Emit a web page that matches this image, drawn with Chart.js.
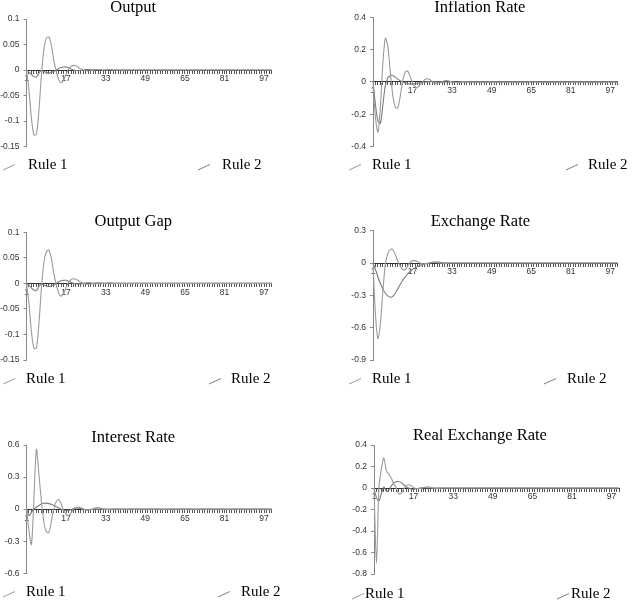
<!DOCTYPE html>
<html>
<head>
<meta charset="utf-8">
<title>Impulse responses</title>
<script src="https://cdn.jsdelivr.net/npm/chart.js@4.4.0/dist/chart.umd.min.js"></script>
<style>
  body { margin: 0; background: #fff; width: 643px; height: 602px; overflow: hidden; position: relative; }
  canvas { position: absolute; }
</style>
</head>
<body>
<script>
// periods on the x axis
const periods = Array.from({ length: 100 }, (_, i) => i + 1);
const xTickLabels = [1, 17, 33, 49, 65, 81, 97];
const seriesNames = ['Rule 1', 'Rule 2'];

// y tick labels per panel
const outputTicks = [-0.15, -0.1, -0.05, 0, 0.05, 0.1];
const inflationTicks = [-0.4, -0.2, 0, 0.2, 0.4];
const gapTicks = [-0.15, -0.1, -0.05, 0, 0.05, 0.1];
const exchangeTicks = [-0.9, -0.6, -0.3, 0, 0.3];
const interestTicks = [-0.6, -0.3, 0, 0.3, 0.6];
const realExchangeTicks = [-0.8, -0.6, -0.4, -0.2, 0, 0.2, 0.4];

// series values
const outputRule1 = [
  0, -0.04, -0.095, -0.127, -0.126, -0.08, -0.012, 0.04, 0.062, 0.065,
  0.05, 0.02, -0.002, -0.019, -0.025, -0.02, -0.008, 0.002, 0.007, 0.009,
  0.008, 0.005, 0.002, 0, -0.001, -0.002, -0.001, 0, 0.001, 0.001,
  0.001, 0, 0, 0.001, 0.001, 0, 0, 0, 0, 0,
  0, 0, 0, 0, 0, 0, 0, 0, 0, 0,
  0, 0, 0, 0, 0, 0, 0, 0, 0, 0,
  0, 0, 0, 0, 0, 0, 0, 0, 0, 0,
  0, 0, 0, 0, 0, 0, 0, 0, 0, 0,
  0, 0, 0, 0, 0, 0, 0, 0, 0, 0,
  0, 0, 0, 0, 0, 0, 0, 0, 0, 0
];
const outputRule2 = [
  0, -0.004, -0.009, -0.013, -0.014, -0.006, -0.001, -0.003, -0.005, -0.006,
  -0.005, -0.003, 0, 0.003, 0.005, 0.006, 0.006, 0.004, 0.002, 0,
  -0.001, -0.001, -0.001, 0, 0.001, 0.001, 0.001, 0, 0, 0,
  0, 0, 0, 0, 0, 0, 0, 0, 0, 0,
  0, 0, 0, 0, 0, 0, 0, 0, 0, 0,
  0, 0, 0, 0, 0, 0, 0, 0, 0, 0,
  0, 0, 0, 0, 0, 0, 0, 0, 0, 0,
  0, 0, 0, 0, 0, 0, 0, 0, 0, 0,
  0, 0, 0, 0, 0, 0, 0, 0, 0, 0,
  0, 0, 0, 0, 0, 0, 0, 0, 0, 0
];
const inflationRule1 = [
  0, -0.22, -0.31, -0.15, 0.12, 0.27, 0.22, 0.06, -0.08, -0.155,
  -0.16, -0.09, 0.005, 0.06, 0.068, 0.035, -0.005, -0.03, -0.033, -0.02,
  0, 0.015, 0.02, 0.015, 0.003, -0.007, -0.01, -0.006, 0.002, 0.008,
  0.009, 0.005, 0, -0.003, -0.003, -0.001, 0.001, 0.002, 0.001, 0,
  0, 0, 0, 0, 0, 0, 0, 0, 0, 0,
  0, 0, 0, 0, 0, 0, 0, 0, 0, 0,
  0, 0, 0, 0, 0, 0, 0, 0, 0, 0,
  0, 0, 0, 0, 0, 0, 0, 0, 0, 0,
  0, 0, 0, 0, 0, 0, 0, 0, 0, 0,
  0, 0, 0, 0, 0, 0, 0, 0, 0, 0
];
const inflationRule2 = [
  0, -0.14, -0.24, -0.255, -0.14, -0.02, 0.025, 0.04, 0.04, 0.03,
  0.018, 0.008, 0, -0.006, -0.01, -0.012, -0.012, -0.01, -0.007, -0.004,
  -0.002, 0, 0.001, 0.002, 0.002, 0.001, 0, 0, 0, 0,
  0, 0, 0, 0, 0, 0, 0, 0, 0, 0,
  0, 0, 0, 0, 0, 0, 0, 0, 0, 0,
  0, 0, 0, 0, 0, 0, 0, 0, 0, 0,
  0, 0, 0, 0, 0, 0, 0, 0, 0, 0,
  0, 0, 0, 0, 0, 0, 0, 0, 0, 0,
  0, 0, 0, 0, 0, 0, 0, 0, 0, 0,
  0, 0, 0, 0, 0, 0, 0, 0, 0, 0
];
const gapRule1 = [
  0, -0.04, -0.095, -0.127, -0.127, -0.08, -0.012, 0.04, 0.062, 0.065,
  0.05, 0.02, -0.002, -0.019, -0.025, -0.02, -0.008, 0.002, 0.007, 0.009,
  0.008, 0.005, 0.002, 0, -0.001, -0.002, -0.001, 0, 0.001, 0.001,
  0.001, 0, 0, 0.001, 0.001, 0, 0, 0, 0, 0,
  0, 0, 0, 0, 0, 0, 0, 0, 0, 0,
  0, 0, 0, 0, 0, 0, 0, 0, 0, 0,
  0, 0, 0, 0, 0, 0, 0, 0, 0, 0,
  0, 0, 0, 0, 0, 0, 0, 0, 0, 0,
  0, 0, 0, 0, 0, 0, 0, 0, 0, 0,
  0, 0, 0, 0, 0, 0, 0, 0, 0, 0
];
const gapRule2 = [
  0, -0.004, -0.009, -0.013, -0.014, -0.006, -0.001, -0.003, -0.005, -0.006,
  -0.005, -0.003, 0, 0.003, 0.005, 0.006, 0.006, 0.004, 0.002, 0,
  -0.001, -0.001, -0.001, 0, 0.001, 0.001, 0.001, 0, 0, 0,
  0, 0, 0, 0, 0, 0, 0, 0, 0, 0,
  0, 0, 0, 0, 0, 0, 0, 0, 0, 0,
  0, 0, 0, 0, 0, 0, 0, 0, 0, 0,
  0, 0, 0, 0, 0, 0, 0, 0, 0, 0,
  0, 0, 0, 0, 0, 0, 0, 0, 0, 0,
  0, 0, 0, 0, 0, 0, 0, 0, 0, 0,
  0, 0, 0, 0, 0, 0, 0, 0, 0, 0
];
const exchangeRule1 = [
  0, -0.48, -0.7, -0.56, -0.26, -0.01, 0.09, 0.125, 0.127, 0.08,
  0.02, -0.03, -0.06, -0.06, -0.03, 0.005, 0.02, 0.022, 0.012, 0,
  -0.008, -0.008, -0.004, 0.002, 0.006, 0.006, 0.003, 0, -0.002, -0.002,
  -0.001, 0, 0, 0, 0, 0, 0, 0, 0, 0,
  0, 0, 0, 0, 0, 0, 0, 0, 0, 0,
  0, 0, 0, 0, 0, 0, 0, 0, 0, 0,
  0, 0, 0, 0, 0, 0, 0, 0, 0, 0,
  0, 0, 0, 0, 0, 0, 0, 0, 0, 0,
  0, 0, 0, 0, 0, 0, 0, 0, 0, 0,
  0, 0, 0, 0, 0, 0, 0, 0, 0, 0
];
const exchangeRule2 = [
  0, -0.06, -0.13, -0.19, -0.24, -0.28, -0.305, -0.318, -0.31, -0.28,
  -0.24, -0.2, -0.16, -0.13, -0.1, -0.078, -0.06, -0.045, -0.033, -0.023,
  -0.015, -0.008, -0.003, 0.002, 0.006, 0.008, 0.008, 0.006, 0.003, 0.001,
  0, 0, 0, 0, 0, 0, 0, 0, 0, 0,
  0, 0, 0, 0, 0, 0, 0, 0, 0, 0,
  0, 0, 0, 0, 0, 0, 0, 0, 0, 0,
  0, 0, 0, 0, 0, 0, 0, 0, 0, 0,
  0, 0, 0, 0, 0, 0, 0, 0, 0, 0,
  0, 0, 0, 0, 0, 0, 0, 0, 0, 0,
  0, 0, 0, 0, 0, 0, 0, 0, 0, 0
];
const interestRule1 = [
  0, -0.2, -0.33, 0.1, 0.56, 0.33, 0.08, -0.12, -0.21, -0.22,
  -0.12, 0, 0.07, 0.09, 0.05, -0.01, -0.05, -0.06, -0.035, 0,
  0.015, 0.02, 0.012, 0, -0.008, -0.01, -0.006, 0.004, 0.012, 0.015,
  0.01, 0.002, -0.003, -0.004, -0.002, 0, 0.001, 0.001, 0, 0,
  0, 0, 0, 0, 0, 0, 0, 0, 0, 0,
  0, 0, 0, 0, 0, 0, 0, 0, 0, 0,
  0, 0, 0, 0, 0, 0, 0, 0, 0, 0,
  0, 0, 0, 0, 0, 0, 0, 0, 0, 0,
  0, 0, 0, 0, 0, 0, 0, 0, 0, 0,
  0, 0, 0, 0, 0, 0, 0, 0, 0, 0
];
const interestRule2 = [
  0, -0.06, -0.03, 0, 0.02, 0.035, 0.048, 0.055, 0.056, 0.052,
  0.045, 0.035, 0.022, 0.01, 0, -0.01, -0.015, -0.012, -0.004, 0.005,
  0.01, 0.01, 0.006, 0, -0.004, -0.004, -0.002, 0, 0, 0,
  0, 0, 0, 0, 0, 0, 0, 0, 0, 0,
  0, 0, 0, 0, 0, 0, 0, 0, 0, 0,
  0, 0, 0, 0, 0, 0, 0, 0, 0, 0,
  0, 0, 0, 0, 0, 0, 0, 0, 0, 0,
  0, 0, 0, 0, 0, 0, 0, 0, 0, 0,
  0, 0, 0, 0, 0, 0, 0, 0, 0, 0,
  0, 0, 0, 0, 0, 0, 0, 0, 0, 0
];
const realExchangeRule1 = [
  0, -0.7, 0, 0.18, 0.28, 0.16, 0.13, 0.09, 0.04, 0,
  -0.055, -0.05, -0.01, 0.02, 0.03, 0.02, 0.005, -0.005, -0.008, -0.003,
  0.005, 0.01, 0.01, 0.005, 0, -0.003, -0.002, 0, 0, 0,
  0, 0, 0, 0, 0, 0, 0, 0, 0, 0,
  0, 0, 0, 0, 0, 0, 0, 0, 0, 0,
  0, 0, 0, 0, 0, 0, 0, 0, 0, 0,
  0, 0, 0, 0, 0, 0, 0, 0, 0, 0,
  0, 0, 0, 0, 0, 0, 0, 0, 0, 0,
  0, 0, 0, 0, 0, 0, 0, 0, 0, 0,
  0, 0, 0, 0, 0, 0, 0, 0, 0, 0
];
const realExchangeRule2 = [
  0, -0.09, -0.12, -0.05, 0.01, -0.03, -0.02, 0.02, 0.045, 0.058,
  0.06, 0.05, 0.03, 0.01, 0, -0.01, -0.012, -0.008, -0.003, 0.002,
  0.003, 0.002, 0, 0, 0, 0, 0, 0, 0, 0,
  0, 0, 0, 0, 0, 0, 0, 0, 0, 0,
  0, 0, 0, 0, 0, 0, 0, 0, 0, 0,
  0, 0, 0, 0, 0, 0, 0, 0, 0, 0,
  0, 0, 0, 0, 0, 0, 0, 0, 0, 0,
  0, 0, 0, 0, 0, 0, 0, 0, 0, 0,
  0, 0, 0, 0, 0, 0, 0, 0, 0, 0,
  0, 0, 0, 0, 0, 0, 0, 0, 0, 0
];

// page layout of each panel (pixels)
const panels = [
  { title: 'Output', rule1: outputRule1, rule2: outputRule2, ticks: outputTicks,
    plotL: 26.5, plotR: 271.5, yTop: 19, yBot: 146.5, titleX: 133, titleY: 8,
    legendY: 165, right: 320, bottom: 186, legend: [{ icon: 3, text: 28 }, { icon: 198, text: 222 }] },
  { title: 'Inflation Rate', rule1: inflationRule1, rule2: inflationRule2, ticks: inflationTicks,
    plotL: 373, plotR: 617.7, yTop: 17.3, yBot: 146.7, titleX: 480, titleY: 7.5,
    legendY: 165, right: 643, bottom: 186, legend: [{ icon: 349, text: 372 }, { icon: 566, text: 588 }] },
  { title: 'Output Gap', rule1: gapRule1, rule2: gapRule2, ticks: gapTicks,
    plotL: 26.5, plotR: 271.5, yTop: 232.3, yBot: 360, titleX: 133.3, titleY: 222,
    legendY: 379, right: 320, bottom: 400, legend: [{ icon: 3, text: 26 }, { icon: 209, text: 231 }] },
  { title: 'Exchange Rate', rule1: exchangeRule1, rule2: exchangeRule2, ticks: exchangeTicks,
    plotL: 373, plotR: 617.7, yTop: 230.7, yBot: 360, titleX: 480.5, titleY: 221.7,
    legendY: 379, right: 643, bottom: 400, legend: [{ icon: 349, text: 372 }, { icon: 544, text: 567 }] },
  { title: 'Interest Rate', rule1: interestRule1, rule2: interestRule2, ticks: interestTicks,
    plotL: 26.5, plotR: 271.5, yTop: 445, yBot: 573.3, titleX: 133.3, titleY: 437.5,
    legendY: 592, right: 320, bottom: 602, legend: [{ icon: 3, text: 26 }, { icon: 218, text: 241 }] },
  { title: 'Real Exchange Rate', rule1: realExchangeRule1, rule2: realExchangeRule2, ticks: realExchangeTicks,
    plotL: 374, plotR: 619, yTop: 445, yBot: 574, titleX: 480.2, titleY: 436,
    legendY: 594, right: 643, bottom: 602, legend: [{ icon: 352, text: 365 }, { icon: 557, text: 571 }] }
];

const lineColors = ['#9a9a9a', '#7c7c7c'];

// small slanted line + label under each panel
const legendLines = {
  id: 'legendLines',
  afterDraw(chart, args, opts) {
    const ctx = chart.ctx;
    ctx.save();
    chart.data.datasets.forEach((ds, i) => {
      const item = opts.items[i];
      const x = item.icon - opts.x0;
      const y = opts.y - opts.y0;
      ctx.strokeStyle = ds.borderColor;
      ctx.lineWidth = 1;
      ctx.beginPath();
      ctx.moveTo(x, y + 5);
      ctx.lineTo(x + 12, y - 0.5);
      ctx.stroke();
      ctx.fillStyle = '#000';
      ctx.font = '15px "Liberation Serif"';
      ctx.textBaseline = 'middle';
      ctx.textAlign = 'left';
      ctx.fillText(ds.label, item.text - opts.x0, y);
    });
    ctx.restore();
  }
};

function makePanel(p) {
  const canvas = document.createElement('canvas');
  const x0 = Math.round(2 * p.titleX - p.plotR);
  const y0 = Math.round(p.titleY - 6.6);
  const w = Math.round(p.right - x0);
  const h = Math.round(p.bottom - y0);
  canvas.width = w;
  canvas.height = h;
  canvas.style.left = x0 + 'px';
  canvas.style.top = y0 + 'px';
  document.body.appendChild(canvas);

  const titleSize = 16.5;
  const titleH = titleSize * 0.8;

  new Chart(canvas, {
    type: 'line',
    data: {
      labels: periods,
      datasets: [p.rule1, p.rule2].map((vals, i) => ({
        label: seriesNames[i],
        data: vals,
        borderColor: lineColors[i],
        borderWidth: 1.1,
        pointRadius: 0,
        tension: 0.3,
        fill: false
      }))
    },
    options: {
      responsive: false,
      animation: false,
      layout: {
        // right padding keeps the title centred over the same span as before
        padding: { left: 0, top: 0, right: w - (p.plotR - x0), bottom: h - (p.yBot - y0) }
      },
      plugins: {
        legend: { display: false },
        tooltip: { enabled: false },
        title: {
          display: true,
          text: p.title,
          color: '#000',
          font: { family: 'Liberation Serif', size: titleSize, weight: 'normal', lineHeight: 0.8 },
          padding: { top: 0, bottom: p.yTop - y0 - titleH }
        },
        legendLines: { items: p.legend, x0: x0, y0: y0, y: p.legendY }
      },
      scales: {
        x: {
          type: 'category',
          position: { y: 0 },
          offset: false,
          z: 1,
          border: { color: '#333', width: 1 },
          grid: { drawOnChartArea: false, tickLength: 3, color: '#555' },
          ticks: {
            autoSkip: false,
            maxRotation: 0,
            minRotation: 0,
            padding: 1,
            color: '#333',
            font: { family: 'Liberation Sans', size: 8.5 },
            callback: function(v) {
              const lab = this.getLabelForValue(v);
              return xTickLabels.includes(lab) ? String(lab) : '';
            }
          }
        },
        y: {
          min: p.ticks[0],
          max: p.ticks[p.ticks.length - 1],
          afterBuildTicks: s => { s.ticks = p.ticks.map(v => ({ value: v })); },
          afterFit: s => { s.width = p.plotL - x0; },
          border: { color: '#888', width: 1 },
          grid: { drawOnChartArea: false, tickLength: 3, color: '#888' },
          ticks: {
            padding: 4,
            color: '#333',
            font: { family: 'Liberation Sans', size: 8.5 },
            callback: v => String(v)
          }
        }
      }
    },
    plugins: [legendLines]
  });
}

panels.forEach(makePanel);
</script>
</body>
</html>
